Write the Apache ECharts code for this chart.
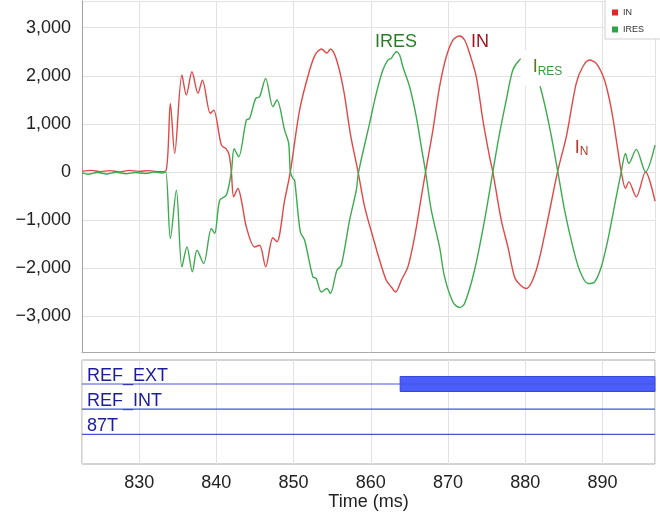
<!DOCTYPE html>
<html>
<head>
<meta charset="utf-8">
<script src="https://cdn.jsdelivr.net/npm/echarts@6/dist/echarts.min.js"></script>
<style>
html, body { margin: 0; padding: 0; background: #fff; }
#chart { width: 660px; height: 520px; }
</style>
</head>
<body>
<div id="chart"></div>
<script>
// time window (ms) and y window of the analog panel
const timeRange = [822.6, 896.8];
const currentRange = [-3750, 3556];

// IN, [time ms, value]
const inData = [
	[822.6, 10], [823.8, 30], [825.0, 5], [826.2, 25], [827.5, 0], [828.7, 30], [830.0, 10], [831.2, 25], [832.4, 5], [833.44, 15],
	[834.04, 1425], [834.6, 383], [835.54, 2015], [836.11, 1598], [836.84, 2083], [837.62, 1633], [838.19, 1910], [839.22, 1217],
	[839.65, 1285], [840.65, 556], [841.29, 473], [841.66, 348], [841.94, 0], [842.24, -521], [842.79, -346], [843.31, -652],
	[843.88, -1146], [844.96, -1563], [845.6, -1527], [846.38, -1975], [847.32, -1371], [847.84, -1458], [848.84, -590], [849.58, 0],
	[850.78, 1285], [852.08, 2119], [852.85, 2452], [853.63, 2556], [854.28, 2473], [854.79, 2556], [855.57, 2327], [856.48, 1702],
	[857.38, 765], [858.35, 0],
	[859.2, -729], [860.27, -1354], [861.14, -1840], [862.0, -2256], [862.65, -2396], [863.21, -2500], [863.95, -2256], [864.8, -1979],
	[865.67, -1354], [866.54, -521], [867.09, 0],
	[868.04, 869], [868.9, 1771], [869.77, 2396], [870.63, 2744], [871.49, 2827], [872.14, 2744], [872.79, 2467], [873.66, 1979],
	[874.51, 1077], [875.38, 313], [875.8, 0],
	[876.89, -1006], [877.75, -1563], [878.61, -2188], [879.26, -2340], [880.13, -2429], [881.42, -2048], [882.72, -1146], [884.18, 0],
	[885.31, 729], [886.6, 1842], [887.45, 2188], [888.32, 2327], [889.19, 2258], [890.26, 1910], [891.17, 1285], [891.95, 494], [892.43, 0],
	[892.98, -346], [893.41, -208], [894.37, -521], [895.57, 0], [896.8, -610]
];

// IRES, [time ms, value]
const iresData = [
	[822.6, -20], [823.4, -50], [824.6, -15], [825.8, -45], [827.0, -10], [828.3, -40], [829.5, -15], [830.8, -35], [832.0, -5],
	[833.0, -25], [833.44, 0],
	[834.04, -1388], [834.82, -381], [835.54, -1979], [836.19, -1563], [836.89, -2083], [837.49, -1631], [838.35, -1908], [839.35, -1179],
	[839.78, -1283], [840.43, -590], [841.29, -485], [841.94, 0], [842.3, 483], [842.88, 313], [843.88, 1077], [844.31, 1113],
	[845.09, 1529], [845.6, 1563], [846.38, 1946], [847.32, 1354], [847.84, 1494], [848.84, 869], [849.36, 592], [849.58, 0],
	[849.91, -138], [850.13, -173], [850.87, -1250], [851.43, -1423], [852.5, -2188], [852.94, -2221], [853.59, -2500], [854.32, -2429],
	[854.76, -2533], [855.61, -2048], [856.18, -1944], [857.25, -1006], [858.12, -381], [858.42, 0],
	[859.84, 1008], [860.71, 1633], [861.56, 2119], [862.21, 2327], [862.65, 2363], [863.3, 2500], [863.73, 2431], [864.15, 2188],
	[865.02, 1771], [865.89, 1146], [866.54, 521], [867.09, 0],
	[867.83, -798], [868.9, -1563], [869.55, -2188], [870.63, -2708], [871.49, -2825], [872.14, -2742], [873.43, -2048], [874.73, -1006], [875.8, 0],
	[876.67, 800], [877.54, 1494], [878.39, 2119], [879.26, 2327], [880.17, 2410], [881.07, 2119], [881.94, 1771], [883.14, 938], [884.22, 0],
	[885.09, -798], [886.16, -1563], [887.03, -2048], [888.1, -2325], [888.97, -2292], [889.84, -1979], [890.69, -1423], [891.78, -521], [892.43, 0],
	[892.98, 383], [893.41, 175], [894.37, 467], [895.57, 0], [896.8, 556]
];

// digital channels and the spans where they are set: [channel, from, to]
const channels = ['REF_EXT', 'REF_INT', '87T'];
const highSpans = [[0, 863.8, 896.8]];

const FONT = '"Liberation Sans", Arial, sans-serif';

const fmtY = (v) => {
	if (v % 1000 !== 0) return '';
	const s = Math.abs(v).toLocaleString('en-US');
	return v < 0 ? '\u2212' + s : s;
};

const myChart = echarts.init(document.getElementById('chart'));

const channelLines = channels.map((name, k) => ({
	type: 'line',
	xAxisIndex: 1,
	yAxisIndex: 1,
	data: [[timeRange[0], k], [timeRange[1], k]],
	symbol: 'none',
	silent: true,
	lineStyle: { color: '#4355d9', width: 1.2 },
}));

const option = {
	animation: false,
	textStyle: { fontFamily: FONT },
	legend: {
		left: 605,
		top: -2,
		orient: 'vertical',
		padding: [9, 20, 4, 7],
		itemWidth: 6,
		itemHeight: 6,
		itemGap: 6,
		icon: 'rect',
		backgroundColor: '#fff',
		borderColor: '#cfcfcf',
		borderWidth: 1,
		textStyle: { fontSize: 9, lineHeight: 11, color: '#333' },
		data: [
			{ name: 'IN', itemStyle: { color: '#e3262b' } },
			{ name: 'IRES', itemStyle: { color: '#2ea34a' } },
		],
	},
	grid: [
		{ left: 82, right: 5, top: 1, height: 351 },
		{ left: 82, right: 5, top: 360, height: 104, show: true, borderColor: '#a8a8a8', borderWidth: 1 },
	],
	xAxis: [
		{
			type: 'value',
			gridIndex: 0,
			min: timeRange[0],
			max: timeRange[1],
			minInterval: 10,
			maxInterval: 10,
			axisLine: { show: true, onZero: false, lineStyle: { color: '#a8a8a8' } },
			axisTick: { show: false },
			axisLabel: { show: false },
			splitLine: { lineStyle: { color: '#e2e2e2' } },
		},
		{
			type: 'value',
			gridIndex: 1,
			min: timeRange[0],
			max: timeRange[1],
			minInterval: 10,
			maxInterval: 10,
			axisLine: { show: false },
			axisTick: { show: false },
			axisLabel: {
				fontSize: 18,
				color: '#222',
				margin: 10,
				showMinLabel: false,
				showMaxLabel: false,
				formatter: (v) => (v % 10 === 0 ? String(v) : ''),
			},
			splitLine: { lineStyle: { color: '#e2e2e2' } },
			name: 'Time (ms)',
			nameLocation: 'middle',
			nameGap: 29,
			nameTextStyle: { fontSize: 18, color: '#222' },
		},
	],
	yAxis: [
		{
			type: 'value',
			gridIndex: 0,
			min: currentRange[0],
			max: currentRange[1],
			minInterval: 1000,
			maxInterval: 1000,
			axisLine: { show: true, lineStyle: { color: '#a0a0a0' } },
			axisTick: { show: false },
			axisLabel: {
				fontSize: 18,
				color: '#222',
				margin: 11,
				showMinLabel: false,
				showMaxLabel: false,
				formatter: fmtY,
			},
			splitLine: { lineStyle: { color: '#e2e2e2' } },
		},
		{
			type: 'value',
			gridIndex: 1,
			inverse: true,
			min: -0.95,
			max: 3.17,
			show: false,
		},
	],
	series: [
		{
			name: 'IN',
			type: 'line',
			data: inData,
			symbol: 'none',
			smooth: 0.3,
			lineStyle: { color: '#e04848', width: 1.4 },
			itemStyle: { color: '#e04848' },
			markPoint: {
				symbol: 'rect',
				symbolSize: 1,
				itemStyle: { color: 'rgba(0,0,0,0)' },
				silent: true,
				data: [
					{
						coord: [863.27, 2702],
						label: { show: true, position: 'inside', formatter: 'IRES', fontSize: 18, color: '#2d7a2a' },
					},
					{
						coord: [874.15, 2702],
						label: { show: true, position: 'inside', formatter: 'IN', fontSize: 18, color: '#a3141e' },
					},
					{
						coord: [882.43, 2156],
						label: {
							show: true,
							position: 'inside',
							formatter: '{i|I}{s|RES}',
							backgroundColor: '#fff',
							padding: [7, 5, 9, 12],
							rich: {
								i: { fontSize: 18, lineHeight: 20, color: '#5a7a1e' },
								s: { fontSize: 12, lineHeight: 12, color: '#3a9a40', verticalAlign: 'bottom' },
							},
						},
					},
					{
						coord: [887.28, 494],
						label: {
							show: true,
							position: 'inside',
							formatter: '{i|I}{s|N}',
							rich: {
								i: { fontSize: 18, lineHeight: 20, color: '#b0382a' },
								s: { fontSize: 12, lineHeight: 12, color: '#b0382a', verticalAlign: 'bottom' },
							},
						},
					},
				],
			},
		},
		{
			name: 'IRES',
			type: 'line',
			data: iresData,
			symbol: 'none',
			smooth: 0.3,
			lineStyle: { color: '#3eaa50', width: 1.4 },
			itemStyle: { color: '#3eaa50' },
		},
		...channelLines,
		{
			type: 'custom',
			xAxisIndex: 1,
			yAxisIndex: 1,
			data: highSpans,
			encode: { x: [1, 2], y: 0 },
			renderItem: (params, api) => {
				const a = api.coord([api.value(1), api.value(0)]);
				const b = api.coord([api.value(2), api.value(0)]);
				return {
					type: 'rect',
					shape: { x: a[0], y: a[1] - 7.5, width: b[0] - a[0], height: 15 },
					style: { fill: '#4b5dfa', stroke: '#3446d6', lineWidth: 1 },
				};
			},
		},
		{
			type: 'custom',
			xAxisIndex: 1,
			yAxisIndex: 1,
			data: channels.map((c, k) => [timeRange[0], k]),
			encode: { x: 0, y: 1 },
			renderItem: (params, api) => {
				const p = api.coord([api.value(0), api.value(1)]);
				return {
					type: 'text',
					x: p[0] + 5,
					y: p[1] + 1,
					style: {
						text: channels[params.dataIndex],
						fill: '#1c1c9e',
						font: '18px ' + FONT,
						verticalAlign: 'bottom',
					},
				};
			},
		},
	],
};

myChart.setOption(option);
</script>
</body>
</html>
